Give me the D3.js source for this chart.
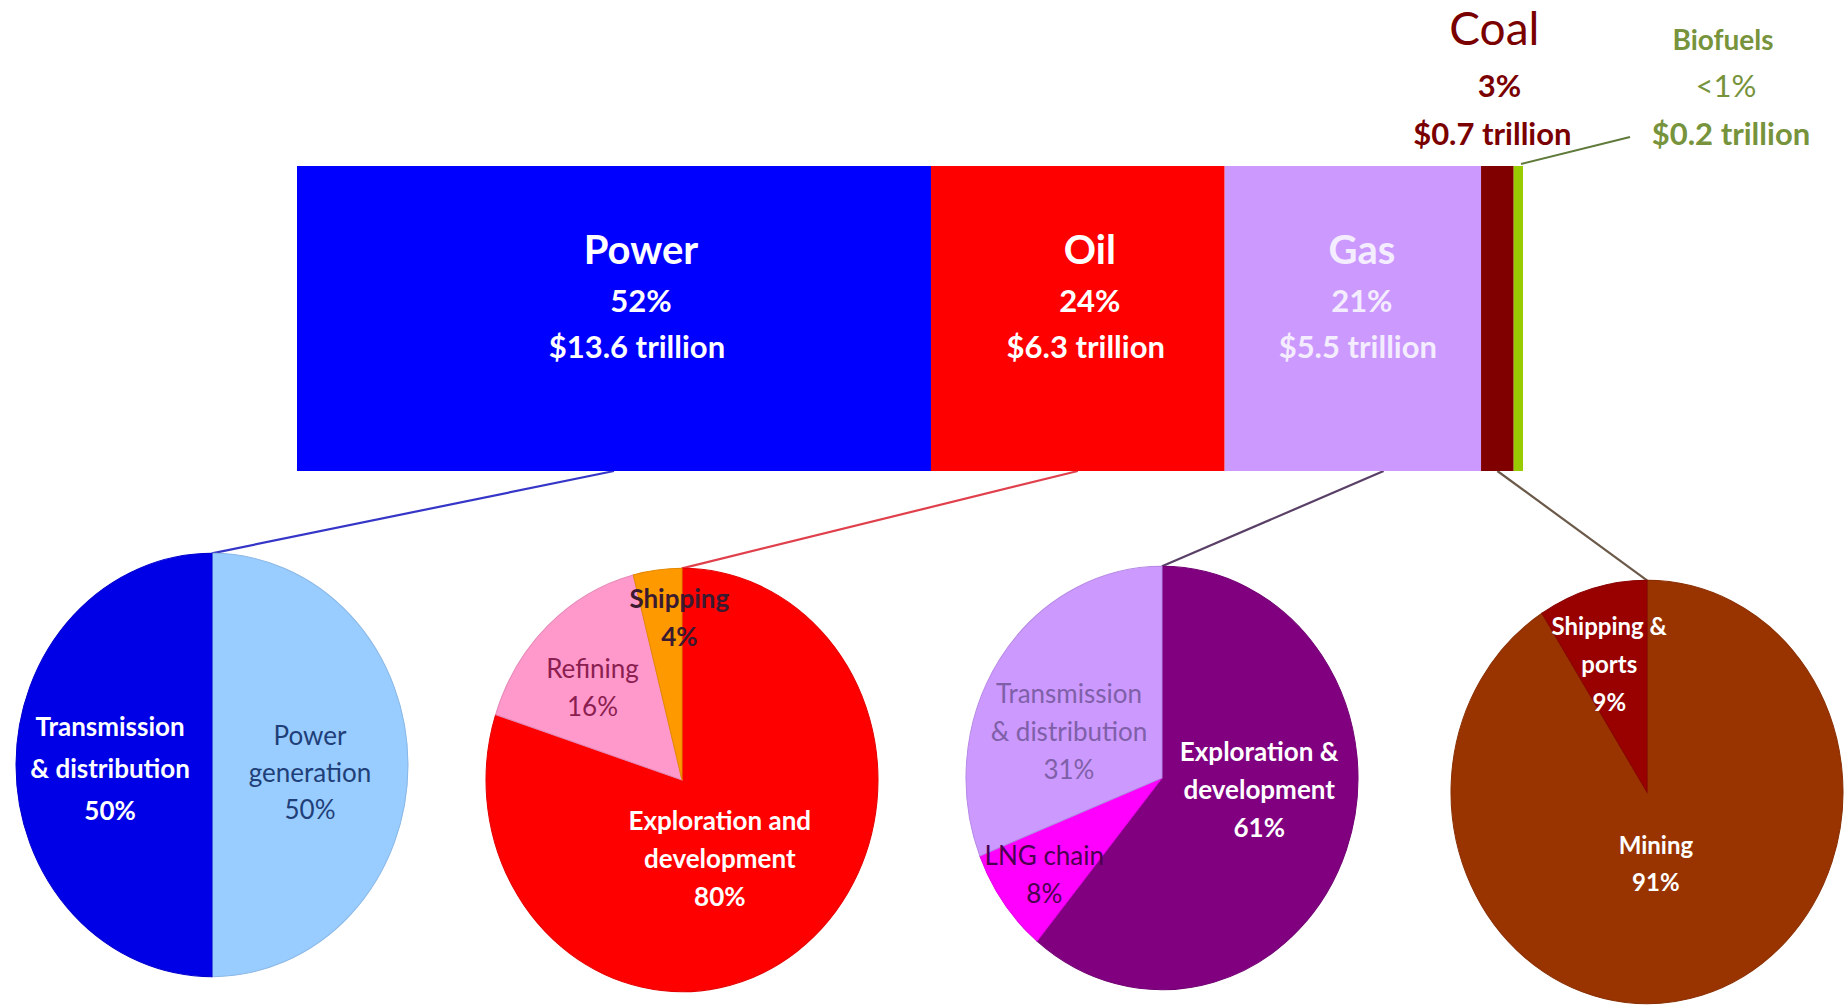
<!DOCTYPE html>
<html>
<head>
<meta charset="utf-8">
<script src="https://cdn.jsdelivr.net/npm/d3@7"></script>
<style>
  body { margin: 0; background: #fff; }
  text { font-family: Lato, "Open Sans", sans-serif; }
</style>
</head>
<body>
<div id="chart"></div>
<script>
// top bar: investment by sector ($ trillion)
var sectors = ["Power", "Oil", "Gas", "Coal", "Biofuels"];
var sectorShare = ["52%", "24%", "21%", "3%", "<1%"];
var sectorValue = [13.6, 6.3, 5.5, 0.7, 0.2];

// breakdown pies (percent)
var powerParts = ["Power generation", "Transmission & distribution"];
var powerValues = [50, 50];
var oilParts = ["Exploration and development", "Refining", "Shipping"];
var oilValues = [80, 16, 4];
var gasParts = ["Exploration & development", "LNG chain", "Transmission & distribution"];
var gasValues = [61, 8, 31];
var coalParts = ["Mining", "Shipping & ports"];
var coalValues = [91, 9];

function init() {
  var w = 1847, h = 1005;
  var barTop = 166, barBottom = 471;
  var rx = 196, sy = 1.08;

  var sectorColor = ["#0000ff", "#ff0000", "#cc99ff", "#800000", "#99cc00"];
  var labelColor = ["#ffffff", "#ffffff", "#f4ecff"];
  var labelShift = [27, 12, 9];

  var svg = d3.select("#chart").append("svg")
    .attr("width", w).attr("height", h);

  var total = d3.sum(sectorValue);
  var xScale = d3.scaleLinear().domain([0, total]).range([297, 1523]);

  var stack = [];
  var acc = 0;
  sectorValue.forEach(function(v, i) {
    stack.push({ name: sectors[i], share: sectorShare[i], value: v, x0: acc, x1: acc + v, i: i });
    acc += v;
  });

  // pie layout: colours, label style and nudges
  var pies = [
    { parts: powerParts, values: powerValues, cx: 212, cy: 765, from: 0, at: 0.5, line: "#3535c8",
      colors: ["#99ccff", "#0000e6"],
      text: [{ c: "#1f3f78", b: 400, r: 0.5, dx: 0, dy: 8, lh: 37 },
             { c: "#ffffff", b: 700, r: 0.52, dx: 0, dy: 4, lh: 42 }],
      lines: [["Power", "generation"], ["Transmission", "& distribution"]] },
    { parts: oilParts, values: oilValues, cx: 682, cy: 780, from: 1, at: 0.5, line: "#e0404c",
      colors: ["#ff0000", "#ff99cc", "#ff9900"],
      text: [{ c: "#ffffff", b: 700, r: 0.45, dx: -14, dy: 2, lh: 38 },
             { c: "#8b2050", b: 400, r: 0.6, dx: -9, dy: 0, lh: 38 },
             { c: "#3a1a30", b: 700, r: 0.76, dx: 16, dy: -3, lh: 38 }],
      lines: [["Exploration and", "development"], ["Refining"], ["Shipping"]] },
    { parts: gasParts, values: gasValues, cx: 1162, cy: 778, from: 2, at: 0.62, line: "#5a4066",
      colors: ["#800080", "#ff00ff", "#cc99ff"],
      text: [{ c: "#ffffff", b: 700, r: 0.5, dx: 5, dy: -24, lh: 38 },
             { c: "#4b0050", b: 400, r: 0.78, dx: 6, dy: 0, lh: 38 },
             { c: "#7f60a8", b: 400, r: 0.5, dx: -12, dy: 13, lh: 38 }],
      lines: [["Exploration &", "development"], ["LNG chain"], ["Transmission", "& distribution"]] },
    { parts: coalParts, values: coalValues, cx: 1647, cy: 792, from: 3, at: 0.5, line: "#6b5a4a",
      colors: ["#993300", "#990000"],
      text: [{ c: "#ffffff", b: 700, r: 0.4, dx: -13, dy: -9, lh: 37 },
             { c: "#ffffff", b: 700, r: 0.58, dx: -6, dy: -10, lh: 38 }],
      lines: [["Mining"], ["Shipping &", "ports"]] }
  ];

  // connector lines from bar to pies
  pies.forEach(function(p) {
    var s = stack[p.from];
    svg.append("line")
      .attr("x1", xScale(s.x0 + (s.x1 - s.x0) * p.at))
      .attr("y1", barBottom)
      .attr("x2", p.cx)
      .attr("y2", p.cy - rx * sy)
      .attr("stroke", p.line)
      .attr("stroke-width", 2.2);
  });

  // biofuels leader
  svg.append("line")
    .attr("x1", xScale(stack[4].x1) - 2).attr("y1", barTop - 2)
    .attr("x2", 1630).attr("y2", 137)
    .attr("stroke", "#5f7a3a").attr("stroke-width", 2);

  // stacked bar
  svg.selectAll("rect.seg")
    .data(stack)
    .enter().append("rect")
    .attr("class", "seg")
    .attr("x", function(d) { return xScale(d.x0); })
    .attr("y", barTop)
    .attr("width", function(d) { return xScale(d.x1) - xScale(d.x0); })
    .attr("height", barBottom - barTop)
    .attr("fill", function(d) { return sectorColor[d.i]; });

  // labels inside bar
  stack.slice(0, 3).forEach(function(d) {
    var cx = (xScale(d.x0) + xScale(d.x1)) / 2 + labelShift[d.i];
    var g = svg.append("g").attr("fill", labelColor[d.i]).attr("text-anchor", "middle").attr("font-weight", 700);
    g.append("text").attr("x", cx).attr("y", 264).attr("font-size", 40).text(d.name);
    g.append("text").attr("x", cx).attr("y", 312).attr("font-size", 31).text(d.share);
    g.append("text").attr("x", cx - 4).attr("y", 358).attr("font-size", 31).text("$" + d.value + " trillion");
  });

  // coal and biofuels labels above bar
  var coal = stack[3];
  var coalX = (xScale(coal.x0) + xScale(coal.x1)) / 2;
  var cg = svg.append("g").attr("fill", "#7a0000").attr("text-anchor", "middle");
  cg.append("text").attr("x", coalX - 3).attr("y", 45).attr("font-size", 46).text(coal.name);
  cg.append("text").attr("x", coalX + 2).attr("y", 97).attr("font-size", 31).attr("font-weight", 700).text(coal.share);
  cg.append("text").attr("x", coalX - 5).attr("y", 145).attr("font-size", 31).attr("font-weight", 700).text("$" + coal.value + " trillion");

  var bio = stack[4];
  var bg = svg.append("g").attr("fill", "#77933c").attr("text-anchor", "middle").attr("font-weight", 700);
  bg.append("text").attr("x", 1723).attr("y", 50).attr("font-size", 28).text(bio.name);
  bg.append("text").attr("x", 1726).attr("y", 97).attr("font-size", 31).attr("font-weight", 400).text(bio.share);
  bg.append("text").attr("x", 1731).attr("y", 145).attr("font-size", 31).text("$" + bio.value + " trillion");

  // pies
  var pie = d3.pie().sort(null).value(function(d) { return d; });
  var arc = d3.arc().innerRadius(0).outerRadius(rx);

  pies.forEach(function(p, pi) {
    var arcs = pie(p.values);
    var g = svg.append("g")
      .attr("transform", "translate(" + p.cx + "," + p.cy + ") scale(1," + sy + ")");
    g.selectAll("path")
      .data(arcs)
      .enter().append("path")
      .attr("d", arc)
      .attr("fill", function(d, i) { return p.colors[i]; })
      .attr("stroke", function(d, i) { return d3.color(p.colors[i]).darker(0.3); })
      .attr("stroke-width", 1);

    var fs = pi === 3 ? 24 : 26;
    arcs.forEach(function(a, i) {
      var t = p.text[i];
      var la = (a.startAngle + a.endAngle) / 2;
      var lx = p.cx + Math.sin(la) * rx * t.r + t.dx;
      var ly = p.cy - Math.cos(la) * rx * t.r * sy + t.dy;
      var rows = p.lines[i].concat([p.values[i] + "%"]);
      var y0 = ly - (rows.length - 1) * t.lh / 2 + fs * 0.36;
      var txt = svg.append("text")
        .attr("text-anchor", "middle")
        .attr("fill", t.c)
        .attr("font-weight", t.b)
        .attr("font-size", fs);
      rows.forEach(function(r, k) {
        txt.append("tspan").attr("x", lx).attr("y", y0 + k * t.lh).text(r);
      });
    });
  });
}

window.onload = init;
</script>
</body>
</html>
